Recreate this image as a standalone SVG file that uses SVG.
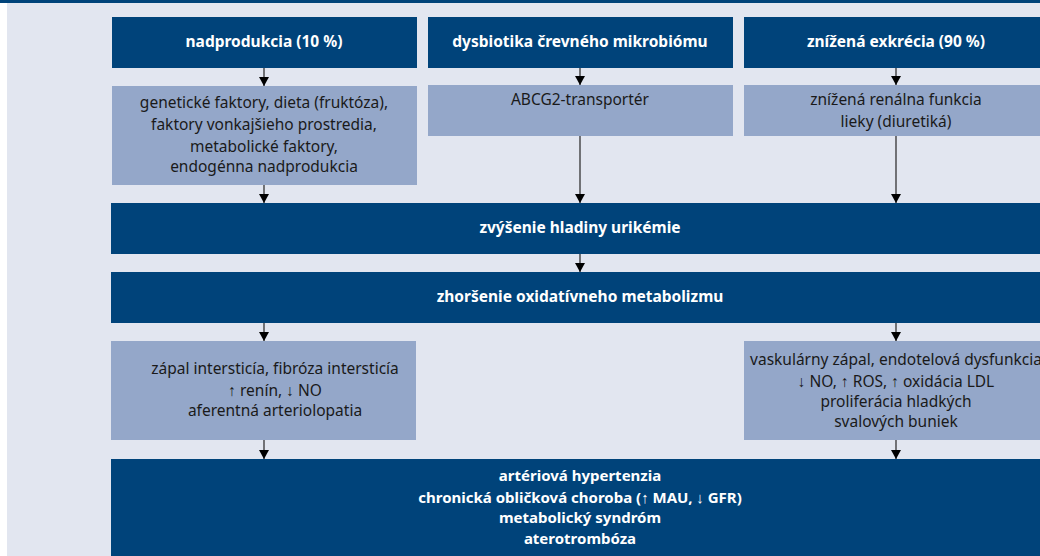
<svg xmlns="http://www.w3.org/2000/svg" width="1040" height="556" viewBox="0 0 1040 556">
<defs>
<style>
.dark{fill:#00437A}
.light{fill:#94A7C9}
.hd{font-family:"Noto Sans","Open Sans",sans-serif;font-weight:bold;font-size:15.5px;fill:#FFFFFF;text-anchor:middle;font-variant-ligatures:none}
.big{font-size:15px}
.tx{font-family:"Noto Sans","Open Sans",sans-serif;font-size:15.5px;fill:#1A1A1A;text-anchor:middle;font-variant-ligatures:none}
.con{stroke:#333333;stroke-width:1.3;fill:none;marker-end:url(#ah)}
</style>
<marker id="ah" viewBox="0 0 9 10" refX="9" refY="5" markerWidth="9" markerHeight="10" markerUnits="userSpaceOnUse" orient="auto">
<path d="M0,0 L9,5 L0,10 z" fill="#000000"/>
</marker>
</defs>
<rect x="0" y="0" width="1040" height="556" fill="#FFFFFF"/>
<rect x="7" y="3" width="1033" height="553" fill="#E2E6F0"/>
<rect x="0" y="0" width="1040" height="3" class="dark"/>

<g id="n_nadprodukcia">
<rect x="112" y="17" width="305" height="51" class="dark"/>
<text x="264" y="47" class="hd">nadprodukcia (10 %)</text>
</g>
<g id="n_dysbiotika">
<rect x="428" y="17" width="305" height="51" class="dark"/>
<text x="580" y="47" class="hd">dysbiotika črevného mikrobiómu</text>
</g>
<g id="n_exkrecia">
<rect x="744" y="17" width="296" height="51" class="dark"/>
<text x="896" y="47" class="hd">znížená exkrécia (90 %)</text>
</g>

<g id="n_faktory">
<rect x="112" y="86" width="305" height="99" class="light"/>
<text class="tx"><tspan x="264" y="108">genetické faktory, dieta (fruktóza),</tspan><tspan x="264" y="130">faktory vonkajšieho prostredia,</tspan><tspan x="264" y="152">metabolické faktory,</tspan><tspan x="264" y="172">endogénna nadprodukcia</tspan></text>
</g>
<g id="n_abcg2">
<rect x="428" y="85" width="305" height="51" class="light"/>
<text x="580" y="105" class="tx">ABCG2-transportér</text>
</g>
<g id="n_renalna">
<rect x="744" y="85" width="296" height="51" class="light"/>
<text class="tx"><tspan x="896" y="105">znížená renálna funkcia</tspan><tspan x="896" y="127">lieky (diuretiká)</tspan></text>
</g>

<g id="n_urikemia">
<rect x="111" y="203" width="929" height="51" class="dark"/>
<text x="580" y="233" class="hd">zvýšenie hladiny urikémie</text>
</g>
<g id="n_oxidativny">
<rect x="111" y="272" width="929" height="51" class="dark"/>
<text x="580" y="302" class="hd">zhoršenie oxidatívneho metabolizmu</text>
</g>

<g id="n_intersticium">
<rect x="111" y="341" width="305" height="99" class="light"/>
<text class="tx"><tspan x="275" y="374">zápal intersticía, fibróza intersticía</tspan><tspan x="275" y="396">↑ renín, ↓ NO</tspan><tspan x="275" y="416">aferentná arteriolopatia</tspan></text>
</g>
<g id="n_vaskularny">
<rect x="744" y="341" width="296" height="99" class="light"/>
<text class="tx"><tspan x="896" y="365">vaskulárny zápal, endotelová dysfunkcia</tspan><tspan x="896" y="387">↓ NO, ↑ ROS, ↑ oxidácia LDL</tspan><tspan x="896" y="407">proliferácia hladkých</tspan><tspan x="896" y="427">svalových buniek</tspan></text>
</g>

<g id="n_dosledky">
<rect x="111" y="459" width="929" height="97" class="dark"/>
<text class="hd big"><tspan x="580" y="481">artériová hypertenzia</tspan><tspan x="580" y="503">chronická obličková choroba (↑ MAU, ↓ GFR)</tspan><tspan x="580" y="523">metabolický syndróm</tspan><tspan x="580" y="544">aterotrombóza</tspan></text>
</g>

<g id="connectors">
<line x1="264" y1="68" x2="264" y2="86" class="con"/>
<line x1="580" y1="68" x2="580" y2="85" class="con"/>
<line x1="896" y1="68" x2="896" y2="85" class="con"/>
<line x1="264" y1="185" x2="264" y2="203" class="con"/>
<line x1="580" y1="136" x2="580" y2="203" class="con"/>
<line x1="896" y1="136" x2="896" y2="203" class="con"/>
<line x1="580" y1="254" x2="580" y2="272" class="con"/>
<line x1="264" y1="323" x2="264" y2="341" class="con"/>
<line x1="896" y1="323" x2="896" y2="341" class="con"/>
<line x1="264" y1="440" x2="264" y2="459" class="con"/>
<line x1="896" y1="440" x2="896" y2="459" class="con"/>
</g>
</svg>
